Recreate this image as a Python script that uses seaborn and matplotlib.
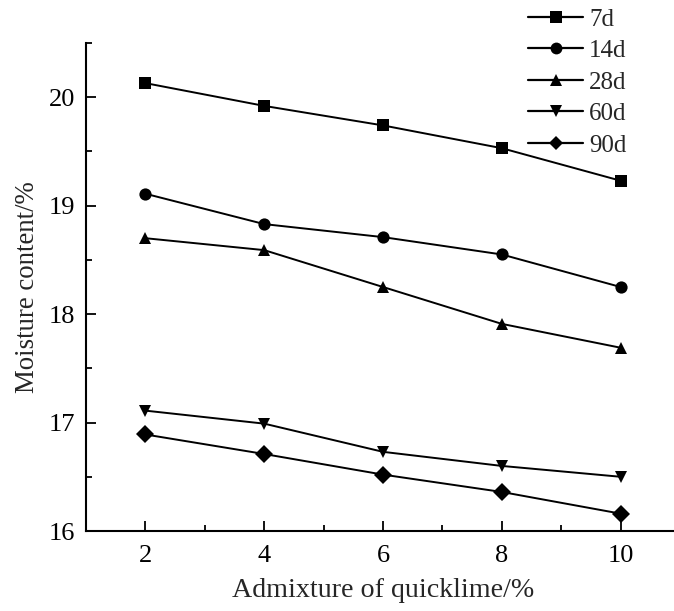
import pandas as pd
import seaborn as sns
import matplotlib.pyplot as plt
from matplotlib.ticker import MultipleLocator

# admixture of quicklime (%)
admixture = [2, 4, 6, 8, 10]
ages = ["7d", "14d", "28d", "60d", "90d"]

# moisture content (%) per curing age
m7 = [20.13, 19.92, 19.74, 19.53, 19.23]
m14 = [19.11, 18.83, 18.71, 18.55, 18.25]
m28 = [18.70, 18.59, 18.25, 17.91, 17.69]
m60 = [17.11, 16.99, 16.73, 16.60, 16.50]
m90 = [16.89, 16.71, 16.52, 16.36, 16.16]

rows = []
for age, vals in zip(ages, [m7, m14, m28, m60, m90]):
    for x, y in zip(admixture, vals):
        rows.append({"admixture": x, "moisture": y, "age": age})
df = pd.DataFrame(rows)

sns.set_style("ticks")
plt.rcParams["font.family"] = ["Liberation Serif", "DejaVu Serif"]

fig = plt.figure(figsize=(6.74, 6.11), dpi=100)
ax = fig.add_axes([86 / 674, 1 - 531 / 611, 594 / 674, 488 / 611])

markers = {"7d": "s", "14d": "o", "28d": "^", "60d": "v", "90d": "D"}
sns.lineplot(data=df, x="admixture", y="moisture", style="age",
             markers=markers, dashes=False, color="black", linewidth=1.4,
             markersize=8.8, markeredgewidth=0, ax=ax, legend=False)

ax.set_xlim(1, 11)
ax.set_ylim(16, 20.5)
ax.xaxis.set_major_locator(MultipleLocator(2))
ax.xaxis.set_minor_locator(MultipleLocator(1))
ax.yaxis.set_major_locator(MultipleLocator(1))
ax.yaxis.set_minor_locator(MultipleLocator(0.5))
ax.tick_params(which="both", direction="in", width=1.3, colors="black",
               labelsize=19)
ax.tick_params(axis="x", pad=10)
ax.tick_params(axis="y", pad=8)
ax.tick_params(which="major", length=7)
ax.tick_params(which="minor", length=4)
for s in ["top", "right"]:
    ax.spines[s].set_visible(False)
for s in ["left", "bottom"]:
    ax.spines[s].set_linewidth(1.5)
    ax.spines[s].set_color("black")

ax.set_xlabel("Admixture of quicklime/%", fontsize=20.2, labelpad=8)
ax.set_ylabel("Moisture content/%", fontsize=19.3, labelpad=6)

handles = [plt.Line2D([], [], color="black", lw=1.6, marker=markers[a],
                      markersize=8.5 if a != "90d" else 7.5, markeredgewidth=0)
           for a in ages]
fig.legend(handles, ages, loc="upper left", bbox_to_anchor=(518 / 674, 1.003),
           frameon=False, fontsize=18, handlelength=2.2, handletextpad=0.25,
           labelspacing=0.36, borderaxespad=0.0)

fig.savefig("out.png", dpi=100)
